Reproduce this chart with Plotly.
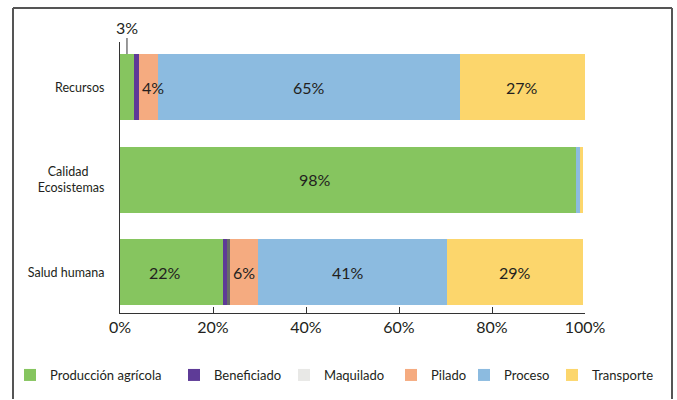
import plotly.graph_objects as go

categories = ["Recursos", "Calidad\u00a0\u00a0\u00a0\u00a0\u00a0<br>Ecosistemas", "Salud humana"]
series_names = ["Producción agrícola", "Beneficiado", "Maquilado", "Pilado", "Proceso", "Transporte"]
produccion = [3.0, 98.0, 22.1]
beneficiado = [1.1, 0.0, 0.9]
maquilado = [0.0, 0.0, 0.6]
pilado = [4.0, 0.0, 6.0]
proceso = [65.0, 1.1, 40.8]
transporte = [26.9, 0.4, 29.1]
x_ticks = [0, 20, 40, 60, 80, 100]
x_tick_labels = ["0%", "20%", "40%", "60%", "80%", "100%"]

series_values = [produccion, beneficiado, maquilado, pilado, proceso, transporte]
colors = ["#86c55f", "#5e3b97", "#e8e8e6", "#f5ab80", "#8cbbe0", "#fcd66c"]
maq_colors = ["#e8e8e6", "#e8e8e6", "#6a6a6a"]

FONT = "Lato"
TXT = "#231f20"
W, H = 677, 400
L, R, T, B = 120, 92, 42, 87
PW, PH = W - L - R, H - T - B

# legend entry symbol centres (pixels) - layout only
legend_centers = [33, 197, 307, 414, 487, 575]

fig = go.Figure()
legend_ids = ["legend", "legend2", "legend3", "legend4", "legend5", "legend6"]
for name, vals, col, lid in zip(series_names, series_values, colors, legend_ids):
    mc = maq_colors if name == "Maquilado" else col
    fig.add_trace(go.Bar(
        y=categories, x=vals, name=name, orientation="h",
        marker=dict(color=mc, line=dict(width=0)),
        width=0.715, hoverinfo="name+x", legend=lid,
    ))

shifts = {(0, "Pilado"): 5, (1, "Producción agrícola"): -33,
          (2, "Producción agrícola"): -6, (2, "Proceso"): -5}
annotations = []
for ci, cat in enumerate(categories):
    start = 0.0
    for name, vals in zip(series_names, series_values):
        v = vals[ci]
        if v >= 4:
            annotations.append(dict(
                x=start + v / 2, y=cat, xref="x", yref="y", text=f"{round(v)}%",
                showarrow=False, font=dict(family=FONT, size=16, color=TXT),
                xshift=shifts.get((ci, name), 0),
            ))
        start += v

annotations.append(dict(
    x=produccion[0] / 2, y=-0.36, xref="x", yref="y", text=f"{round(produccion[0])}%",
    showarrow=True, arrowhead=0, arrowwidth=1, arrowcolor="#333", ax=0, ay=-27,
    font=dict(family=FONT, size=16, color=TXT), standoff=0,
))

legend_style = dict(
    orientation="h", xref="container", yref="container",
    xanchor="left", yanchor="middle",
    font=dict(family=FONT, size=13, color=TXT),
    itemwidth=30, bgcolor="rgba(0,0,0,0)",
)
legends = {}
for lid, cx in zip(legend_ids, legend_centers):
    legends[lid] = dict(legend_style, x=(cx - 3 - 20) / W, y=1 - 375 / H)

# outer frame (pixel positions converted to paper coordinates)
def px(xp):
    return (xp - L) / PW

def py(yp):
    return (H - B - yp) / PH

frame_style = dict(type="line", xref="paper", yref="paper", layer="above",
                   line=dict(color="#555", width=2))
shapes = [
    dict(frame_style, x0=px(13), x1=px(13), y0=py(8), y1=py(399)),
    dict(frame_style, x0=px(672), x1=px(672), y0=py(8), y1=py(399)),
    dict(frame_style, x0=px(13), x1=px(672), y0=py(8), y1=py(8)),
]

fig.update_layout(
    barmode="stack",
    width=W, height=H,
    margin=dict(l=L, r=R, t=T, b=B, autoexpand=False),
    paper_bgcolor="white", plot_bgcolor="white",
    font=dict(family=FONT, color=TXT),
    bargap=0.285,
    xaxis=dict(
        range=[0, 100], tickmode="array", tickvals=x_ticks, ticktext=x_tick_labels,
        showline=True, linecolor="#333", linewidth=1.2,
        ticks="inside", ticklen=6, tickcolor="#333", tickwidth=1.2,
        showgrid=False, zeroline=False, automargin=False,
        tickfont=dict(family=FONT, size=16, color=TXT),
    ),
    yaxis=dict(
        categoryorder="array", categoryarray=categories,
        range=[2.44, -0.49],
        showline=True, linecolor="#333", linewidth=1.2,
        ticks="", showgrid=False, zeroline=False, automargin=False,
        ticklabelstandoff=12,
        tickfont=dict(family=FONT, size=12.5, color=TXT),
    ),
    showlegend=True,
    annotations=annotations,
    shapes=shapes,
    **legends,
)

fig.write_html(
    "out.html",
    config={"displayModeBar": False},
    post_script="document.body.style.margin='0';document.body.style.padding='0';",
)
